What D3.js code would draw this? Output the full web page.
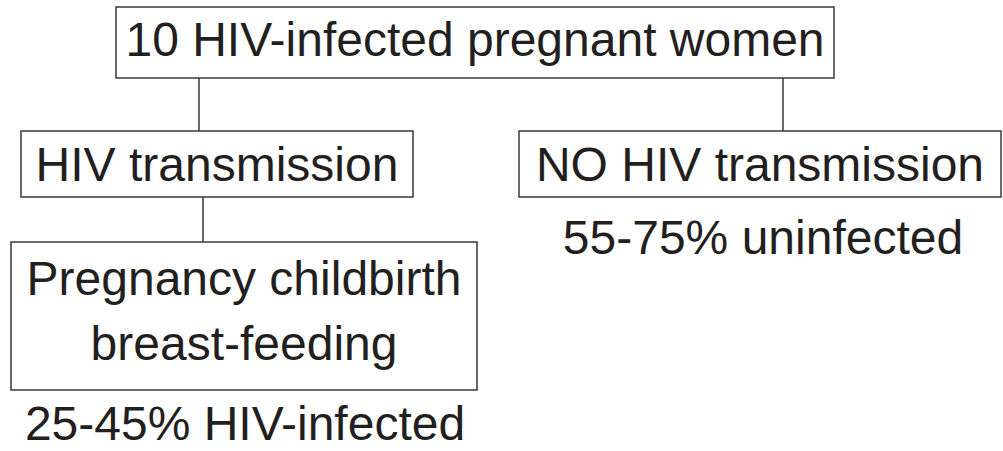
<!DOCTYPE html>
<html>
<head>
<meta charset="utf-8">
<script src="https://cdn.jsdelivr.net/npm/d3@7"></script>
<style>
  body { margin: 0; background: #fff; }
  svg { display: block; }
  text { font-family: "Liberation Sans", Arial, sans-serif; fill: #231f20; }
</style>
</head>
<body>
<svg id="chart" width="1003" height="451"></svg>
<script>
// node labels
var nodeIds = ["root", "trans", "notrans", "route"];
var nodeLabels = [
  ["10 HIV-infected pregnant women"],
  ["HIV transmission"],
  ["NO HIV transmission"],
  ["Pregnancy childbirth", "breast-feeding"]
];
var outcomeLabels = ["25-45% HIV-infected", "55-75% uninfected"];
var links = [["root", "trans"], ["root", "notrans"], ["trans", "route"]];

// layout (pixel boxes)
var boxes = {
  root:    { x0: 116, x1: 834, y0: 7,   y1: 78 },
  trans:   { x0: 21,  x1: 413, y0: 131, y1: 197 },
  notrans: { x0: 519, x1: 1001, y0: 131, y1: 197 },
  route:   { x0: 11,  x1: 477, y0: 242, y1: 390 }
};
var linkX = { trans: 199, notrans: 783, route: 203 };
var baselines = { root: [56], trans: [181], notrans: [181], route: [295, 360] };
var outcomePos = [{ x: 245, y: 440 }, { x: 763, y: 254 }];

var svg = d3.select("#chart");
var fs = 48;

// connectors
svg.selectAll("line.link").data(links).enter().append("line")
  .attr("class", "link")
  .attr("x1", function(d) { return linkX[d[1]]; })
  .attr("x2", function(d) { return linkX[d[1]]; })
  .attr("y1", function(d) { return boxes[d[0]].y1; })
  .attr("y2", function(d) { return boxes[d[1]].y0; })
  .attr("stroke", "#3a3a3a").attr("stroke-width", 1.5);

var nodes = svg.selectAll("g.node").data(nodeIds).enter().append("g").attr("class", "node");

nodes.append("rect")
  .attr("x", function(d) { return boxes[d].x0; })
  .attr("y", function(d) { return boxes[d].y0; })
  .attr("width", function(d) { return boxes[d].x1 - boxes[d].x0; })
  .attr("height", function(d) { return boxes[d].y1 - boxes[d].y0; })
  .attr("fill", "none").attr("stroke", "#3a3a3a").attr("stroke-width", 1.5);

nodes.each(function(d, i) {
  var b = boxes[d], g = d3.select(this);
  nodeLabels[i].forEach(function(t, j) {
    g.append("text")
      .attr("x", (b.x0 + b.x1) / 2)
      .attr("y", baselines[d][j])
      .attr("text-anchor", "middle")
      .attr("font-size", fs)
      .text(t);
  });
});

svg.selectAll("text.outcome").data(outcomeLabels).enter().append("text")
  .attr("class", "outcome")
  .attr("x", function(d, i) { return outcomePos[i].x; })
  .attr("y", function(d, i) { return outcomePos[i].y; })
  .attr("text-anchor", "middle")
  .attr("font-size", fs)
  .text(function(d) { return d; });
</script>
</body>
</html>
